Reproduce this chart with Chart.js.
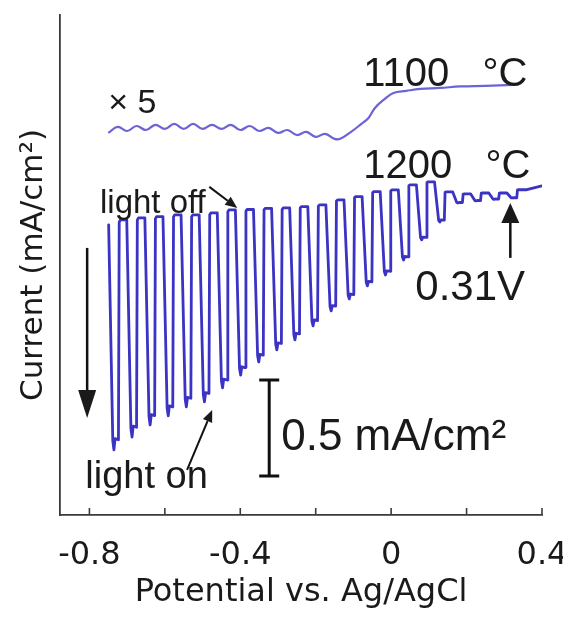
<!DOCTYPE html>
<html>
<head>
<meta charset="utf-8">
<script src="https://cdn.jsdelivr.net/npm/chart.js@4.4.1/dist/chart.umd.min.js"></script>
<style>
  html, body { margin: 0; padding: 0; background: #fff; }
</style>
</head>
<body>
<canvas id="pec" width="563" height="617"></canvas>
<script>
// Potential axis ticks
const xTickValues = [-0.8, -0.6, -0.4, -0.2, 0, 0.2, 0.4];
const xTickLabels = ["-0.8", "", "-0.4", "", "0", "", "0.4"];

// 1100 °C film, current shown x5
const v1100 = [-0.75, -0.725, -0.70, -0.675, -0.65, -0.625, -0.60, -0.575, -0.55, -0.525,
  -0.50, -0.475, -0.45, -0.425, -0.40, -0.375, -0.35, -0.325, -0.30, -0.275,
  -0.25, -0.225, -0.20, -0.175, -0.15, -0.135, -0.11, -0.082, -0.06, -0.043,
  -0.02, 0.006, 0.04, 0.077, 0.13, 0.183, 0.25, 0.324];
const i1100 = [0.271, 0.302, 0.281, 0.307, 0.286, 0.313, 0.292, 0.318, 0.292, 0.318,
  0.292, 0.313, 0.292, 0.313, 0.286, 0.307, 0.281, 0.297, 0.271, 0.286,
  0.260, 0.276, 0.250, 0.266, 0.240, 0.240, 0.271, 0.313, 0.349, 0.401,
  0.443, 0.479, 0.490, 0.500, 0.505, 0.513, 0.516, 0.521];

// 1200 °C film, chopped illumination
// potential where the light switches on
const chopOn = [-0.749, -0.701, -0.653, -0.605, -0.557, -0.509, -0.461, -0.413, -0.365, -0.317,
  -0.269, -0.221, -0.173, -0.125, -0.077, -0.029, 0.019, 0.067, 0.115, 0.163,
  0.211, 0.259, 0.307];
// dark current just before light on
const darkI = [-0.208, -0.182, -0.172, -0.165, -0.156, -0.156, -0.146, -0.130, -0.128, -0.122,
  -0.120, -0.113, -0.104, -0.078, -0.061, -0.035, -0.026, 0.000, 0.016, -0.036,
  -0.047, -0.042, -0.042];
// photocurrent spike under light
const lightI = [-1.380, -1.313, -1.250, -1.203, -1.156, -1.130, -1.057, -0.990, -0.922, -0.859,
  -0.807, -0.734, -0.656, -0.594, -0.526, -0.469, -0.391, -0.286, -0.193, -0.094,
  -0.083, -0.075, -0.068];
const tailV = [0.36, 0.4];
const tailI = [-0.025, -0.005];

function choppedTrace() {
  const pts = [];
  for (let k = 0; k < chopOn.length; k++) {
    const v = chopOn[k];
    const amp = darkI[k] - lightI[k];
    const next = k + 1 < chopOn.length ? darkI[k + 1] : tailI[0];
    pts.push({ x: v, y: darkI[k] });
    pts.push({ x: v + 0.011, y: lightI[k] + 0.04 * amp });
    pts.push({ x: v + 0.014, y: lightI[k] });
    pts.push({ x: v + 0.017, y: lightI[k] + 0.05 * amp });
    pts.push({ x: v + 0.026, y: lightI[k] + 0.045 * amp });
    pts.push({ x: v + 0.028, y: next - 0.01 * amp });
    pts.push({ x: v + 0.031, y: next });
    pts.push({ x: v + 0.045, y: next });
  }
  tailV.forEach((v, i) => pts.push({ x: v, y: tailI[i] }));
  return pts;
}

// text labels placed in data units
const notes = [
  { text: "\u00d7 5", x: -0.750, y: 0.375, size: 34 },
  { text: "1100   \u00b0C", x: -0.074, y: 0.516, size: 40 },
  { text: "1200   \u00b0C", x: -0.074, y: 0.036, size: 40 },
  { text: "light off", x: -0.772, y: -0.146, size: 33 },
  { text: "light on", x: -0.811, y: -1.578, size: 38 },
  { text: "0.31V", x: 0.064, y: -0.599, size: 42 },
  { text: "0.5 mA/cm\u00b2", x: -0.2915, y: -1.380, size: 44 },
];

const arrows = [
  { from: [-0.482, -0.010], to: [-0.408, -0.120], head: 12, width: 10, lw: 2 },
  { from: [-0.541, -1.484], to: [-0.4745, -1.172], head: 12, width: 10, lw: 2 },
  { from: [-0.806, -0.328], to: [-0.806, -1.214], head: 28, width: 18, lw: 2.5 },
  { from: [0.316, -0.380], to: [0.316, -0.094], head: 20, width: 18, lw: 2.5 },
];

// 0.5 mA/cm2 scale bar
const barX = -0.3233;
const barY = [-1.016, -1.516];

const decor = {
  id: "decor",
  afterDraw(chart) {
    const ctx = chart.ctx;
    const xs = chart.scales.x;
    const ys = chart.scales.y;
    ctx.save();
    ctx.fillStyle = "#1a1a1a";

    // inward ticks on the potential axis
    ctx.lineWidth = 1.6;
    ctx.strokeStyle = "#3a3a3a";
    xTickValues.forEach(v => {
      const px = xs.getPixelForValue(v);
      ctx.beginPath();
      ctx.moveTo(px, ys.bottom);
      ctx.lineTo(px, ys.bottom - 7);
      ctx.stroke();
    });

    // scale bar
    ctx.strokeStyle = "#111";
    ctx.lineWidth = 3;
    const bx = xs.getPixelForValue(barX);
    const by0 = ys.getPixelForValue(barY[0]);
    const by1 = ys.getPixelForValue(barY[1]);
    ctx.beginPath();
    ctx.moveTo(bx, by0); ctx.lineTo(bx, by1);
    ctx.moveTo(bx - 10, by0); ctx.lineTo(bx + 10, by0);
    ctx.moveTo(bx - 10, by1); ctx.lineTo(bx + 10, by1);
    ctx.stroke();

    // arrows
    arrows.forEach(a => {
      const x0 = xs.getPixelForValue(a.from[0]), y0 = ys.getPixelForValue(a.from[1]);
      const x1 = xs.getPixelForValue(a.to[0]), y1 = ys.getPixelForValue(a.to[1]);
      const ang = Math.atan2(y1 - y0, x1 - x0);
      const hx = x1 - a.head * Math.cos(ang), hy = y1 - a.head * Math.sin(ang);
      ctx.lineWidth = a.lw;
      ctx.beginPath();
      ctx.moveTo(x0, y0);
      ctx.lineTo(hx, hy);
      ctx.stroke();
      const nx = -Math.sin(ang) * a.width / 2, ny = Math.cos(ang) * a.width / 2;
      ctx.beginPath();
      ctx.moveTo(x1, y1);
      ctx.lineTo(hx + nx, hy + ny);
      ctx.lineTo(hx - nx, hy - ny);
      ctx.closePath();
      ctx.fill();
    });

    // labels
    ctx.textBaseline = "alphabetic";
    ctx.textAlign = "left";
    notes.forEach(n => {
      ctx.font = n.size + "px 'Liberation Sans', Arial, sans-serif";
      ctx.fillText(n.text, xs.getPixelForValue(n.x), ys.getPixelForValue(n.y));
    });
    ctx.restore();
  }
};

const axisFont = { family: "'DejaVu Sans', sans-serif", size: 32, lineHeight: 1 };

new Chart(document.getElementById("pec"), {
  type: "line",
  data: {
    datasets: [
      {
        label: "1100 \u00b0C (\u00d75)",
        data: v1100.map((v, i) => ({ x: v, y: i1100[i] })),
        borderColor: "#6b63d6",
        borderWidth: 2.2,
        pointRadius: 0,
        tension: 0.4,
      },
      {
        label: "1200 \u00b0C",
        data: choppedTrace(),
        borderColor: "#3a33c4",
        borderWidth: 2.8,
        borderJoinStyle: "round",
        borderCapStyle: "round",
        pointRadius: 0,
        tension: 0,
      },
    ],
  },
  options: {
    responsive: false,
    animation: false,
    layout: { padding: { left: 0, top: 15, right: 21, bottom: 0 } },
    plugins: { legend: { display: false }, tooltip: { enabled: false } },
    scales: {
      x: {
        type: "linear",
        min: -0.878,
        max: 0.4,
        afterBuildTicks: s => { s.ticks = xTickValues.map(v => ({ value: v })); },
        afterFit: s => { s.paddingLeft = 0; s.paddingRight = 0; s.height = 102; },
        grid: { display: true, drawOnChartArea: false, drawTicks: false },
        border: { display: true, color: "#3a3a3a", width: 1.8 },
        ticks: {
          padding: 25,
          color: "#1a1a1a",
          font: axisFont,
          maxRotation: 0,
          autoSkip: false,
          callback: (val, idx) => xTickLabels[idx],
        },
        title: {
          display: true,
          text: "Potential vs. Ag/AgCl",
          color: "#1a1a1a",
          font: axisFont,
          padding: { top: 0, bottom: 8 },
        },
      },
      y: {
        min: -1.719,
        max: 0.885,
        afterFit: s => { s.width = 60; },
        grid: { display: true, drawOnChartArea: false, drawTicks: false },
        border: { display: true, color: "#3a3a3a", width: 1.8 },
        ticks: { display: false },
        title: {
          display: true,
          text: "Current (mA/cm\u00b2)",
          color: "#1a1a1a",
          font: { family: "'DejaVu Sans', sans-serif", size: 31, lineHeight: 1 },
          padding: { top: 18, bottom: 0 },
        },
      },
    },
  },
  plugins: [decor],
});
</script>
</body>
</html>
